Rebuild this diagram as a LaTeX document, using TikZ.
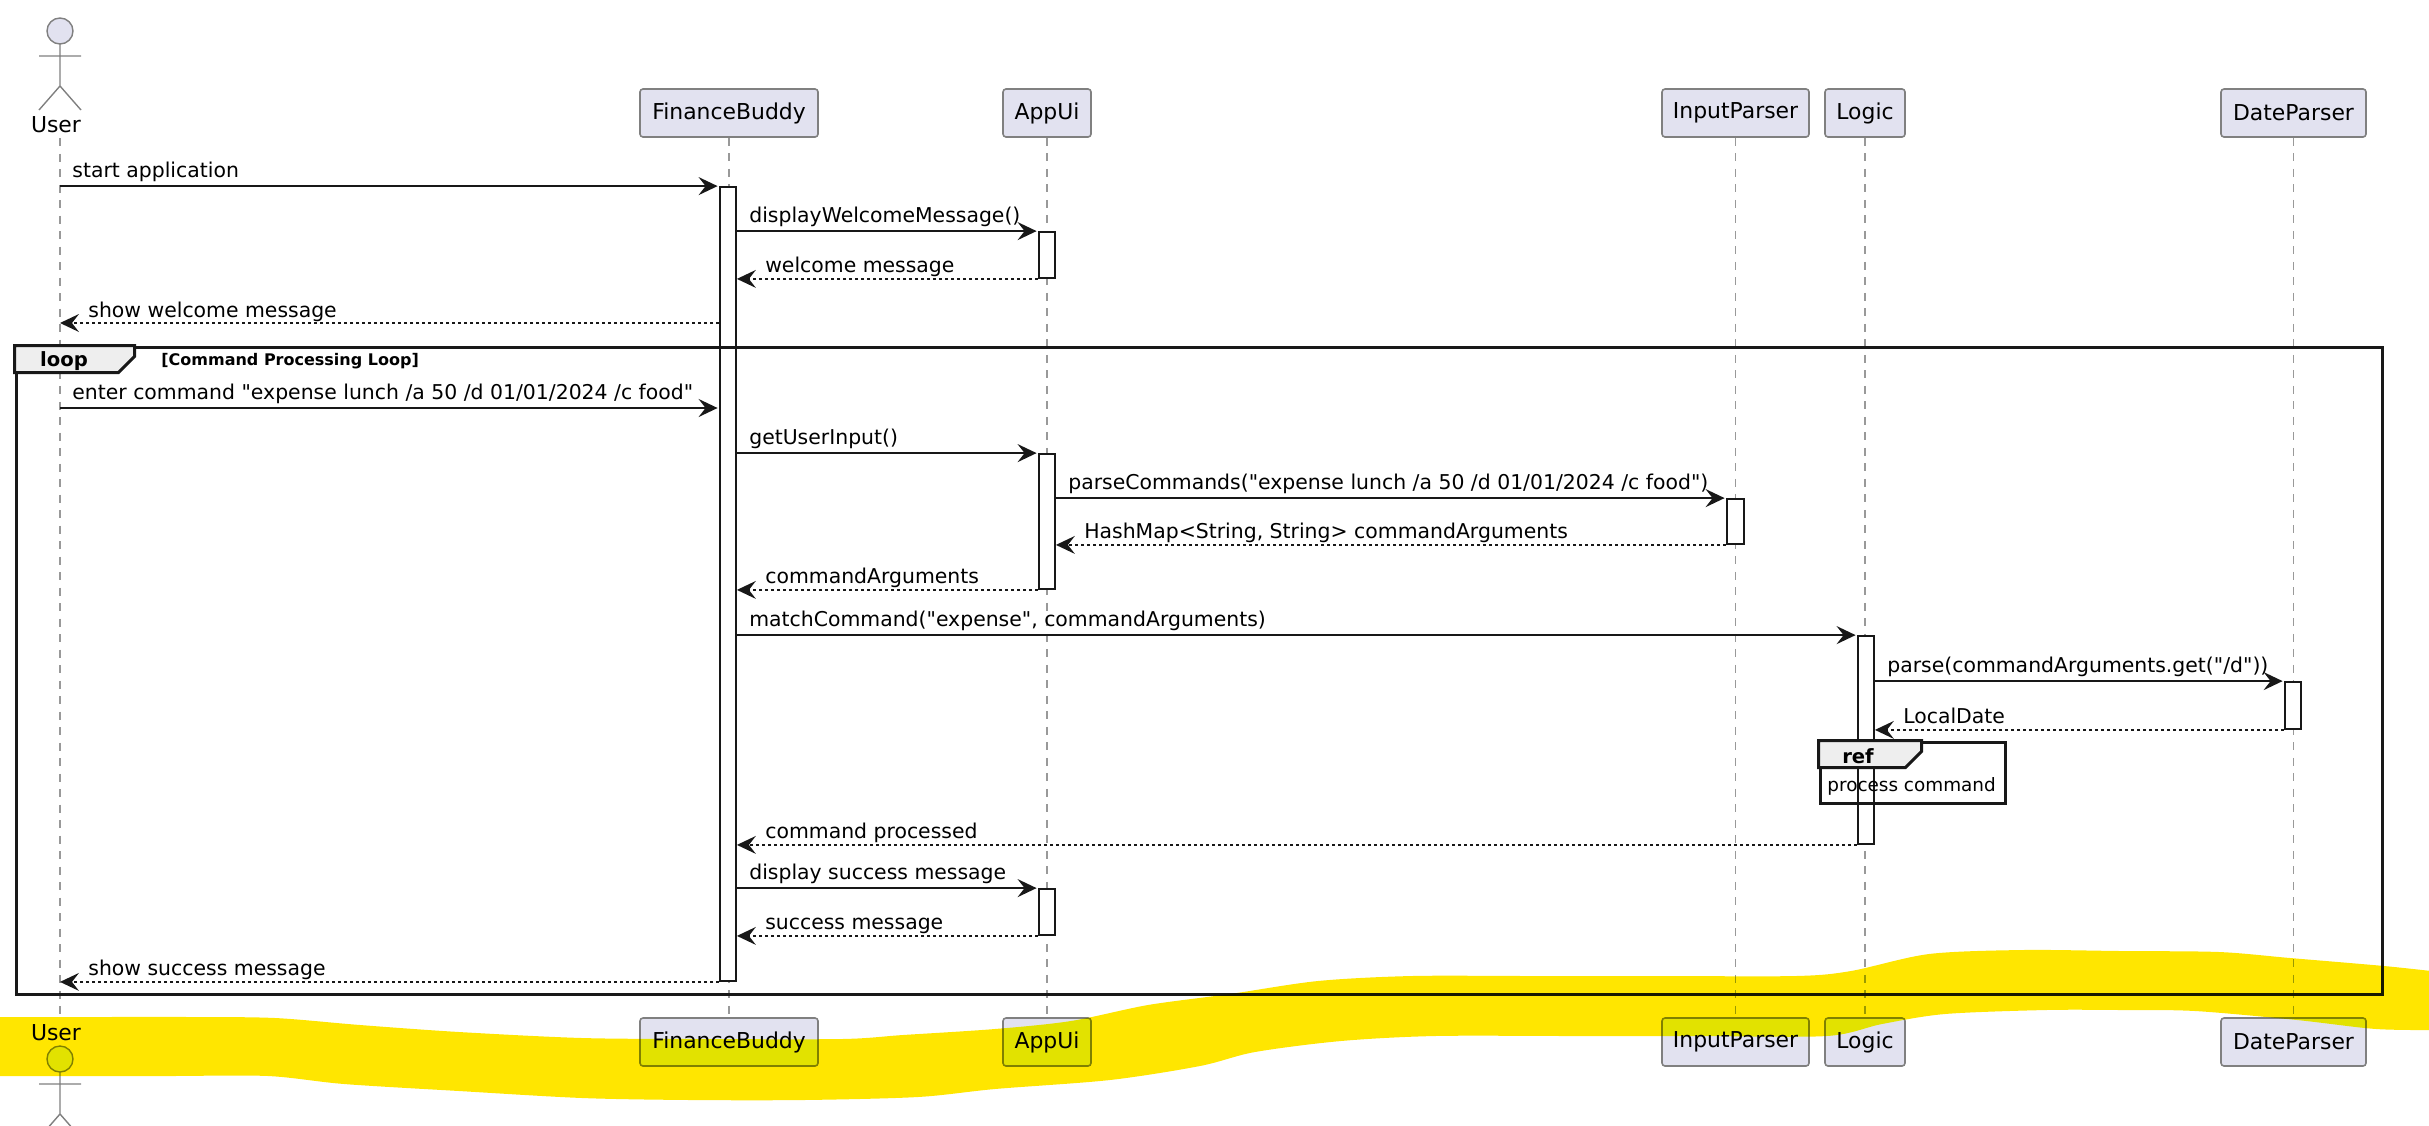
\documentclass[tikz,border=0pt]{standalone}
\usepackage{fontspec}
\usepackage{xcolor}
\usepackage{tikz}
\usetikzlibrary{arrows.meta,fit}
\setmainfont[Ligatures=TeXOff]{DejaVu Sans}
\definecolor{boxfill}{HTML}{E2E2F0}
\definecolor{boxline}{HTML}{808080}
\definecolor{dashline}{HTML}{999999}
\definecolor{inkline}{HTML}{181818}
\definecolor{tabfill}{HTML}{EEEEEE}
\definecolor{marker}{HTML}{FFE600}

\begin{document}
\begin{tikzpicture}[x=0.5pt, y=-0.5pt,
    party/.style={draw=boxline, fill=boxfill, rounded corners=1.5pt, line width=0.8pt, inner sep=0pt,
        minimum height=24pt, font=\fontsize{10.95}{13}\selectfont},
    lifeline/.style={draw=dashline, line width=0.8pt, dash pattern=on 4pt off 3.75pt},
    bar/.style={draw=inkline, fill=white, line width=0.9pt, inner sep=0pt},
    sync/.style={draw=inkline, line width=1pt, -{Stealth[length=9.5pt,width=9pt,inset=3.5pt]}, shorten >=0.75pt},
    back/.style={draw=inkline, line width=1pt, dash pattern=on 1.5pt off 1.5pt,
        -{Stealth[length=9.5pt,width=9pt,inset=3.5pt,line width=0pt]}, shorten >=0pt},
    fwdtext/.style={anchor=base west, inner sep=0pt, xshift=6pt, yshift=4.25pt, font=\fontsize{10.2}{13}\selectfont},
    backtext/.style={anchor=base west, inner sep=0pt, xshift=14pt, yshift=3pt, font=\fontsize{10.2}{13}\selectfont},
    group/.style={draw=inkline, line width=1.5pt, inner sep=0pt},
    grouptab/.style={draw=inkline, fill=tabfill, line width=1.5pt}
]
    \clip (0,0) rectangle (2429,1125);

    % Participants
    \node[party, minimum width=89pt] (FinanceBuddy) at (729,113) {FinanceBuddy};
    \node[party, minimum width=44pt] (AppUi) at (1047,113) {AppUi};
    \node[party, minimum width=73.5pt] (InputParser) at (1735.5,113) {InputParser};
    \node[party, minimum width=40pt] (Logic) at (1865,113) {Logic};
    \node[party, minimum width=72.5pt] (DateParser) at (2293.5,113) {DateParser};
    \node[party, minimum width=89pt] (FinanceBuddyEnd) at (729,1042) {FinanceBuddy};
    \node[party, minimum width=44pt] (AppUiEnd) at (1047,1042) {AppUi};
    \node[party, minimum width=73.5pt] (InputParserEnd) at (1735.5,1042) {InputParser};
    \node[party, minimum width=40pt] (LogicEnd) at (1865,1042) {Logic};
    \node[party, minimum width=72.5pt] (DateParserEnd) at (2293.5,1042) {DateParser};

    % Actor
    \node[font=\fontsize{10.95}{13}\selectfont, inner sep=0pt] (User) at (56,125) {User};
    \node[font=\fontsize{10.95}{13}\selectfont, inner sep=0pt] (UserEnd) at (56,1033) {User};
    \foreach \yy in {18,1046} {
        \draw[draw=boxline, fill=boxfill, line width=0.7pt] (60,\yy+13) circle (13);
        \draw[draw=boxline, line width=0.7pt] (60,\yy+26) -- (60,\yy+68) (39,\yy+38) -- (81,\yy+38)
            (39,\yy+92) -- (60,\yy+68) -- (81,\yy+92);
    }

    % Lifelines
    \coordinate (lineUser) at (60,138);
    \coordinate (lineUserEnd) at (60,1018);
    \draw[lifeline] (lineUser) -- (lineUserEnd);
    \foreach \n in {FinanceBuddy,AppUi,InputParser,Logic,DateParser} {
        \draw[lifeline] (\n.south) -- (\n End.north);
    }

    % Activations
    \node[bar, fit={(720,187)(736,981)}] (barFB) {};
    \node[bar, fit={(1039,232)(1055,278)}] (barApp) {};
    \node[bar, fit={(1039,454)(1055,589)}] (barAppB) {};
    \node[bar, fit={(1039,889)(1055,935)}] (barAppC) {};
    \node[bar, fit={(1727,499)(1744,544)}] (barInput) {};
    \node[bar, fit={(1858,636)(1874,844)}] (barLogic) {};
    \node[bar, fit={(2285,682)(2301,729)}] (barDate) {};

    % Levels without a bar end
    \coordinate (levelShow) at (0,323);
    \coordinate (levelEnter) at (0,408);

    % Messages
    \draw[sync] (lineUser |- barFB.north) -- (barFB.north west);
    \node[fwdtext] (txtStart) at (lineUser |- barFB.north) {start application};
    \draw[sync] (barFB.east |- barApp.north) -- (barApp.north west);
    \node[fwdtext] (txtWelcome) at (barFB.east |- barApp.north) {displayWelcomeMessage()};
    \draw[back] (barApp.south west) -- (barFB.east |- barApp.south);
    \node[backtext] (txtWelcomeBack) at (barFB.east |- barApp.south) {welcome message};
    \draw[back] (barFB.west |- levelShow) -- (lineUser |- levelShow);
    \node[backtext] (txtShow) at (lineUser |- levelShow) {show welcome message};
    \draw[sync] (lineUser |- levelEnter) -- (barFB.west |- levelEnter);
    \node[fwdtext] (txtEnter) at (lineUser |- levelEnter) {enter command "expense lunch /a 50 /d 01/01/2024 /c food"};
    \draw[sync] (barFB.east |- barAppB.north) -- (barAppB.north west);
    \node[fwdtext] (txtInput) at (barFB.east |- barAppB.north) {getUserInput()};
    \draw[sync] (barAppB.east |- barInput.north) -- (barInput.north west);
    \node[fwdtext] (txtParse) at (barAppB.east |- barInput.north) {parseCommands("expense lunch /a 50 /d 01/01/2024 /c food")};
    \draw[back] (barInput.south west) -- (barAppB.east |- barInput.south);
    \node[backtext] (txtMap) at (barAppB.east |- barInput.south) {HashMap<String, String> commandArguments};
    \draw[back] (barAppB.south west) -- (barFB.east |- barAppB.south);
    \node[backtext] (txtArgs) at (barFB.east |- barAppB.south) {commandArguments};
    \draw[sync] (barFB.east |- barLogic.north) -- (barLogic.north west);
    \node[fwdtext] (txtMatch) at (barFB.east |- barLogic.north) {matchCommand("expense", commandArguments)};
    \draw[sync] (barLogic.east |- barDate.north) -- (barDate.north west);
    \node[fwdtext] (txtDate) at (barLogic.east |- barDate.north) {parse(commandArguments.get("/d"))};
    \draw[back] (barDate.south west) -- (barLogic.east |- barDate.south);
    \node[backtext] (txtLocal) at (barLogic.east |- barDate.south) {LocalDate};
    \draw[back] (barLogic.south west) -- (barFB.east |- barLogic.south);
    \node[backtext] (txtDone) at (barFB.east |- barLogic.south) {command processed};
    \draw[sync] (barFB.east |- barAppC.north) -- (barAppC.north west);
    \node[fwdtext] (txtSuccess) at (barFB.east |- barAppC.north) {display success message};
    \draw[back] (barAppC.south west) -- (barFB.east |- barAppC.south);
    \node[backtext] (txtSuccessBack) at (barFB.east |- barAppC.south) {success message};
    \draw[back] (barFB.south west) -- (lineUser |- barFB.south);
    \node[backtext] (txtShowDone) at (lineUser |- barFB.south) {show success message};

    % Loop frame
    \node[group, fit={(16,347)(2382,994)}] (frameLoop) {};
    \draw[grouptab] (frameLoop.north west) -- ++(120,0) -- ++(0,11) -- ++(-16,16) -- ++(-104,0) -- cycle;
    \node[font=\bfseries\fontsize{9.8}{13}\selectfont, inner sep=0pt] (lblLoop) at (64,361) {loop};
    \node[font=\bfseries\fontsize{8}{10}\selectfont, anchor=west, inner sep=0pt] (lblGuard) at (161,361) {[Command Processing Loop]};

    % Ref frame
    \node[group, fit={(1820,742)(2005,803)}] (frameRef) {};
    \draw[grouptab] (frameRef.north west) -- ++(103,0) -- ++(0,11) -- ++(-16,16) -- ++(-87,0) -- cycle;
    \node[font=\bfseries\fontsize{9.8}{13}\selectfont, inner sep=0pt] (lblRef) at (1858,756) {ref};
    \node[font=\fontsize{9.2}{11}\selectfont, anchor=west, inner sep=0pt] (lblProcess) at (1827,786) {process command};

    % Marker stroke
    \fill[marker, blend mode=darken] plot[smooth, tension=0.5] coordinates {(-10,1017) (90,1017) (190,1017) (275,1018)
        (360,1025) (459,1032) (582,1038) (700,1039) (842,1039) (903,1035) (995,1029) (1071,1021) (1148,1005)
        (1230,994) (1318,981) (1412,976) (1530,976) (1660,976) (1796,976) (1851,971) (1929,954) (2023,950)
        (2120,951) (2219,952) (2290,958) (2384,966) (2440,972)}
        -- plot[smooth, tension=0.5] coordinates {(2440,1030) (2376,1029) (2297,1020) (2195,1011) (2120,1010) (2046,1010)
        (1945,1014) (1882,1024) (1827,1036) (1700,1036) (1570,1036) (1435,1036) (1341,1041) (1255,1052) (1200,1066)
        (1110,1080) (995,1089) (918,1097) (804,1100) (690,1100) (582,1098) (459,1091) (344,1084) (268,1076)
        (170,1076) (80,1076) (-10,1076)} -- cycle;
\end{tikzpicture}
\end{document}
